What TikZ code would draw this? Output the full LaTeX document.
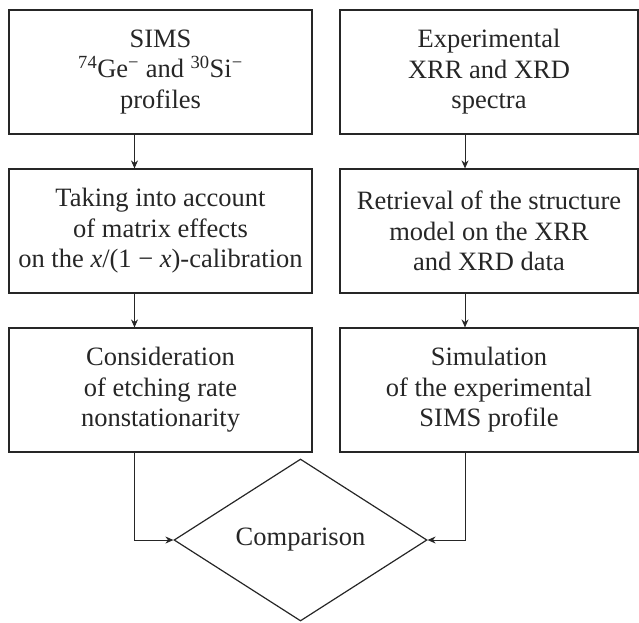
\documentclass[tikz,border=0pt]{standalone}
\usepackage{fontspec}
\setmainfont{Liberation Serif}
\usetikzlibrary{shapes.geometric, arrows.meta}

\begin{document}
\begin{tikzpicture}[x=1pt, y=-1pt, >={Stealth[length=8pt, width=7pt]},
  every node/.style={text=black!85, font=\fontsize{26.5}{30.5}\selectfont},
  box/.style={draw=black!85, line width=1.2pt, minimum height=124pt, align=center, inner sep=0pt},
  link/.style={->, draw=black!85, line width=0.9pt}]
  \useasboundingbox (0,0) rectangle (639,622);

  % left column
  \node[box, minimum width=303pt] (sims) at (160.5,72) {SIMS\\\textsuperscript{74}Ge\textsuperscript{−} and \textsuperscript{30}Si\textsuperscript{−}\\profiles};
  \node[box, minimum width=303pt] (calib) at (160.5,231) {Taking into account\\of matrix effects\\on the \textit{x}/(1 − \textit{x})-calibration};
  \node[box, minimum width=303pt] (etch) at (160.5,390) {Consideration\\of etching rate\\nonstationarity};

  % right column
  \node[box, minimum width=298pt] (exper) at (489,72) {Experimental\\XRR and XRD\\spectra};
  \node[box, minimum width=298pt] (retr) at (489,231) {Retrieval of the structure\\model on the XRR\\and XRD data};
  \node[box, minimum width=298pt] (simul) at (489,390) {Simulation\\of the experimental\\SIMS profile};

  \node[draw=black!85, line width=1.2pt, diamond, minimum width=253pt, minimum height=162pt, inner sep=0pt] (comp) at (300.5,540) {Comparison};

  \draw[link] ([xshift=-26pt]sims.south) -- ([xshift=-26pt]calib.north);
  \draw[link] ([xshift=-26pt]calib.south) -- ([xshift=-26pt]etch.north);
  \draw[link] ([xshift=-24pt]exper.south) -- ([xshift=-24pt]retr.north);
  \draw[link] ([xshift=-24pt]retr.south) -- ([xshift=-24pt]simul.north);

  \draw[link] ([xshift=-26pt]etch.south) |- (comp.west);
  \draw[link] ([xshift=-24pt]simul.south) |- (comp.east);
\end{tikzpicture}
\end{document}
